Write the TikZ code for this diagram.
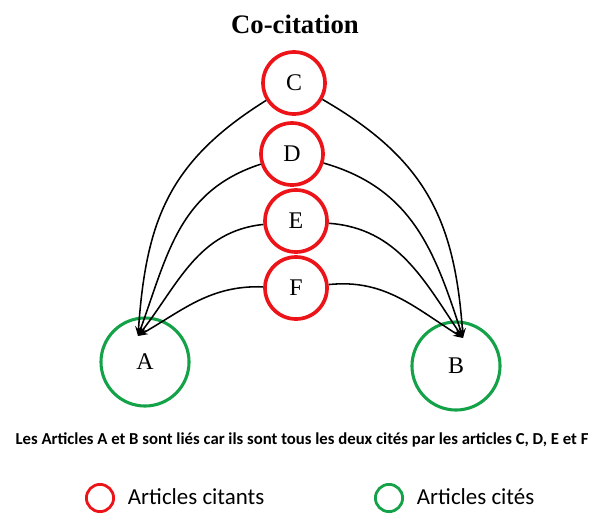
\documentclass[tikz,border=0pt]{standalone}
\usepackage{fontspec}
\setmainfont{Liberation Serif}
\newfontfamily\carlito{Carlito}
\usetikzlibrary{arrows.meta}
\definecolor{citred}{RGB}{236,20,24}
\definecolor{citgreen}{RGB}{20,162,72}

\begin{document}
\begin{tikzpicture}[x=0.025cm,y=-0.025cm,
    citant/.style={circle,draw=citred,line width=2.6pt,minimum size=1.55cm,inner sep=0pt,font=\fontsize{17}{20}\selectfont},
    cite/.style={circle,draw=citgreen,line width=2.2pt,minimum size=2.2cm,inner sep=0pt,font=\fontsize{17}{20}\selectfont},
    legend/.style={circle,line width=2pt,minimum size=0.68cm,inner sep=0pt},
    link/.style={line width=1.1pt,-{Stealth[length=7pt,width=5pt]}}]
		    \useasboundingbox (0,0) rectangle (603,513);
		
		    \node[font=\bfseries\fontsize{19}{22}\selectfont] (title) at (295,24) {Co-citation};
		
		    % articles citants
		    \node[citant] (C) at (294,83) {C};
		    \node[citant] (D) at (292,154) {D};
		    \node[citant] (E) at (296,221) {E};
		    \node[citant] (F) at (296,288) {F};
		
		    % articles cites
		    \node[cite] (A) at (145,362) {A};
		    \node[cite] (B) at (456,366) {B};
		    \coordinate (tipA) at (138,336);
		    \coordinate (tipB) at (463,338);
		
		    \draw[link] (C) to[out=212,in=86,looseness=1.1] (tipA);
		    \draw[link] (D) to[out=198,in=70,looseness=1.05] (tipA);
		    \draw[link] (E) to[out=186,in=52] (tipA);
		    \draw[link] (F) to[out=178,in=30] (tipA);
		
		    \draw[link] (C) to[out=-30,in=94,looseness=1.1] (tipB);
		    \draw[link] (D) to[out=-16,in=108,looseness=1.05] (tipB);
		    \draw[link] (E) to[out=-4,in=124] (tipB);
		    \draw[link] (F) to[out=6,in=148] (tipB);
		
		    \node[font=\carlito\bfseries\fontsize{11.9}{14}\selectfont] (note) at (302,440) {Les Articles A et B sont liés car ils sont tous les deux cités par les articles C, D, E et F};
		
		    % legende
		    \node[legend,draw=citred] (lred) at (100,498) {};
		    \node[anchor=west,font=\carlito\fontsize{16.3}{18}\selectfont] (tred) at (123,497) {Articles citants};
		    \node[legend,draw=citgreen] (lgreen) at (389,498) {};
		    \node[anchor=west,font=\carlito\fontsize{16.3}{18}\selectfont] (tgreen) at (412,497) {Articles cités};
	    \end{tikzpicture}
\end{document}
